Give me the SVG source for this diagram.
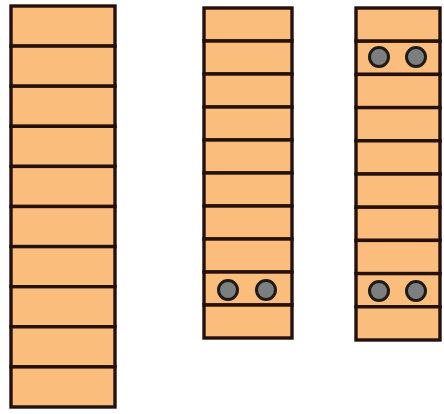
<svg xmlns="http://www.w3.org/2000/svg" width="444" height="414" viewBox="0 0 444 414">
<style>
.cell{fill:#fbbd7c;stroke:#24100c;stroke-width:3.4}
.dot{fill:#7b7f80;stroke:#1f1a18;stroke-width:3}
</style>
<rect width="444" height="414" fill="#ffffff"/>
<g id="stackA">
<rect class="cell" x="11" y="6" width="104" height="40.1"/>
<rect class="cell" x="11" y="46.1" width="104" height="40.1"/>
<rect class="cell" x="11" y="86.2" width="104" height="40.1"/>
<rect class="cell" x="11" y="126.3" width="104" height="40.1"/>
<rect class="cell" x="11" y="166.4" width="104" height="40.1"/>
<rect class="cell" x="11" y="206.5" width="104" height="40.1"/>
<rect class="cell" x="11" y="246.6" width="104" height="40.1"/>
<rect class="cell" x="11" y="286.7" width="104" height="40.1"/>
<rect class="cell" x="11" y="326.8" width="104" height="40.1"/>
<rect class="cell" x="11" y="366.9" width="104" height="40.1"/>
</g>
<g id="stackB">
<rect class="cell" x="204" y="8" width="88" height="33"/>
<rect class="cell" x="204" y="41" width="88" height="33"/>
<rect class="cell" x="204" y="74" width="88" height="33"/>
<rect class="cell" x="204" y="107" width="88" height="33"/>
<rect class="cell" x="204" y="140" width="88" height="33"/>
<rect class="cell" x="204" y="173" width="88" height="33"/>
<rect class="cell" x="204" y="206" width="88" height="33"/>
<rect class="cell" x="204" y="239" width="88" height="33"/>
<rect class="cell" x="204" y="272" width="88" height="33"/>
<rect class="cell" x="204" y="305" width="88" height="33"/>
<circle class="dot" cx="228" cy="290" r="9.5"/>
<circle class="dot" cx="266" cy="290" r="9.5"/>
</g>
<g id="stackC">
<rect class="cell" x="356" y="8" width="84" height="33.2"/>
<rect class="cell" x="356" y="41.2" width="84" height="33.2"/>
<rect class="cell" x="356" y="74.4" width="84" height="33.2"/>
<rect class="cell" x="356" y="107.6" width="84" height="33.2"/>
<rect class="cell" x="356" y="140.8" width="84" height="33.2"/>
<rect class="cell" x="356" y="174" width="84" height="33.2"/>
<rect class="cell" x="356" y="207.2" width="84" height="33.2"/>
<rect class="cell" x="356" y="240.4" width="84" height="33.2"/>
<rect class="cell" x="356" y="273.6" width="84" height="33.2"/>
<rect class="cell" x="356" y="306.8" width="84" height="33.2"/>
<circle class="dot" cx="379" cy="57" r="9.5"/>
<circle class="dot" cx="416" cy="57" r="9.5"/>
<circle class="dot" cx="379" cy="291" r="9.5"/>
<circle class="dot" cx="416" cy="291" r="9.5"/>
</g>
</svg>
